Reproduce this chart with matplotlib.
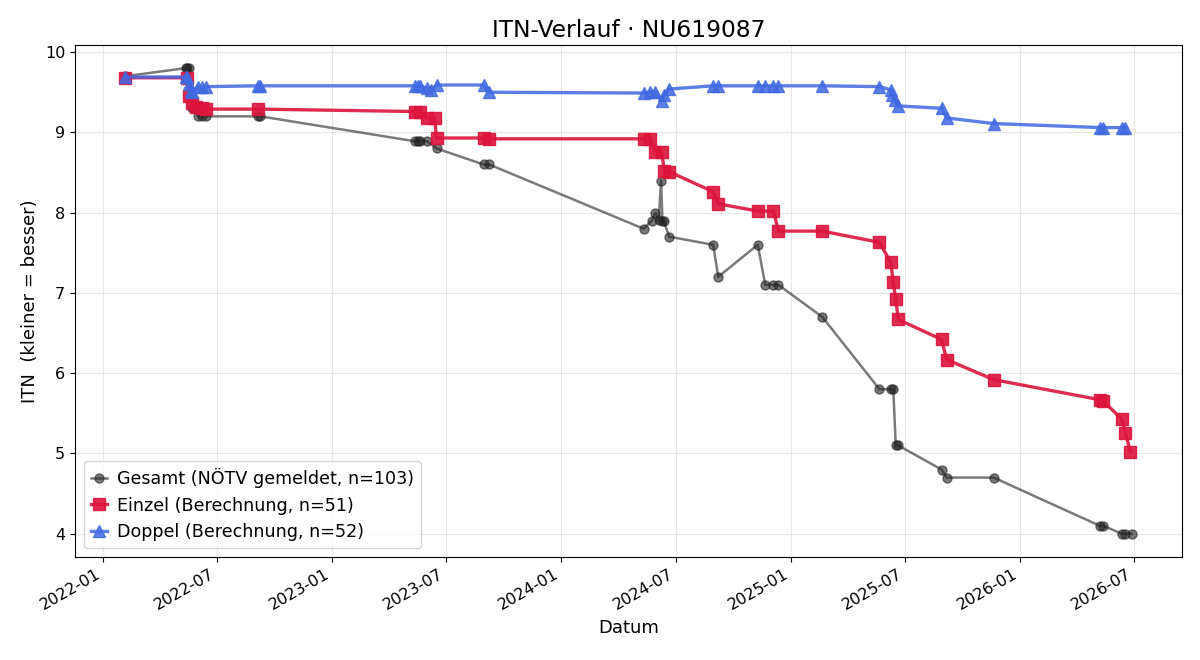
import matplotlib
matplotlib.use("Agg")
import matplotlib.pyplot as plt
import matplotlib.dates as mdates
import pandas as pd

title = "ITN-Verlauf · NU619087"

gesamt_dates = [
    "2022-02-05", "2022-05-12", "2022-05-15", "2022-05-18", "2022-05-23", "2022-05-25",
    "2022-06-01", "2022-06-08", "2022-06-14", "2022-09-05", "2022-09-08",
    "2023-05-12", "2023-05-17", "2023-05-20", "2023-06-01", "2023-06-16",
    "2023-08-30", "2023-09-08",
    "2024-05-11", "2024-05-24", "2024-05-30", "2024-06-04", "2024-06-08", "2024-06-10",
    "2024-06-12", "2024-06-21", "2024-08-30", "2024-09-07", "2024-11-09", "2024-11-21",
    "2024-12-04", "2024-12-12",
    "2025-02-20", "2025-05-22", "2025-06-09", "2025-06-13", "2025-06-17", "2025-06-21",
    "2025-08-29", "2025-09-06", "2025-11-20",
    "2026-05-08", "2026-05-14", "2026-06-12", "2026-06-18", "2026-06-28",
]
gesamt_vals = [
    9.70, 9.80, 9.80, 9.80, 9.30, 9.30,
    9.20, 9.20, 9.20, 9.20, 9.20,
    8.89, 8.89, 8.89, 8.89, 8.80,
    8.60, 8.60,
    7.80, 7.90, 8.00, 7.91, 8.40, 7.90,
    7.90, 7.70, 7.60, 7.20, 7.60, 7.10,
    7.10, 7.10,
    6.70, 5.80, 5.80, 5.80, 5.10, 5.10,
    4.80, 4.70, 4.70,
    4.10, 4.10, 4.00, 4.00, 4.00,
]

einzel_dates = [
    "2022-02-05", "2022-05-15", "2022-05-18", "2022-05-23", "2022-05-28", "2022-06-08",
    "2022-06-14", "2022-09-05",
    "2023-05-12", "2023-05-20", "2023-06-01", "2023-06-13", "2023-06-16", "2023-08-30",
    "2023-09-08",
    "2024-05-11", "2024-05-22", "2024-05-30", "2024-06-09", "2024-06-13", "2024-06-21",
    "2024-08-30", "2024-09-07", "2024-11-09", "2024-12-04", "2024-12-12",
    "2025-02-20", "2025-05-22", "2025-06-09", "2025-06-13", "2025-06-17", "2025-06-21",
    "2025-08-29", "2025-09-06", "2025-11-20",
    "2026-05-08", "2026-05-14", "2026-06-12", "2026-06-18", "2026-06-26",
]
einzel_vals = [
    9.68, 9.68, 9.45, 9.36, 9.32, 9.30,
    9.29, 9.29,
    9.26, 9.26, 9.18, 9.18, 8.93, 8.93,
    8.92,
    8.92, 8.92, 8.76, 8.76, 8.52, 8.51,
    8.26, 8.11, 8.02, 8.02, 7.77,
    7.77, 7.63, 7.38, 7.13, 6.92, 6.67,
    6.42, 6.17, 5.92,
    5.67, 5.65, 5.43, 5.26, 5.02,
]

doppel_dates = [
    "2022-02-05", "2022-05-12", "2022-05-15", "2022-05-18", "2022-05-20", "2022-05-23",
    "2022-06-01", "2022-06-08", "2022-06-14", "2022-09-05", "2022-09-08",
    "2023-05-12", "2023-05-17", "2023-05-20", "2023-06-01", "2023-06-08", "2023-06-16",
    "2023-08-30", "2023-09-08",
    "2024-05-11", "2024-05-22", "2024-05-30", "2024-06-09", "2024-06-13", "2024-06-21",
    "2024-08-30", "2024-09-07", "2024-11-09", "2024-11-21", "2024-12-04", "2024-12-12",
    "2025-02-20", "2025-05-22", "2025-06-09", "2025-06-11", "2025-06-15", "2025-06-21",
    "2025-08-29", "2025-09-06", "2025-11-20",
    "2026-05-08", "2026-05-14", "2026-06-12", "2026-06-18",
]
doppel_vals = [
    9.69, 9.69, 9.69, 9.60, 9.52, 9.50,
    9.57, 9.56, 9.57, 9.58, 9.58,
    9.58, 9.58, 9.58, 9.55, 9.53, 9.59,
    9.59, 9.50,
    9.49, 9.50, 9.50, 9.39, 9.47, 9.54,
    9.58, 9.58, 9.58, 9.58, 9.58, 9.58,
    9.58, 9.57, 9.53, 9.47, 9.40, 9.33,
    9.30, 9.18, 9.11,
    9.06, 9.06, 9.06, 9.06,
]

labels = [
    "Gesamt (NÖTV gemeldet, n=103)",
    "Einzel (Berechnung, n=51)",
    "Doppel (Berechnung, n=52)",
]

fig, ax = plt.subplots(figsize=(12, 6.6), dpi=100)
ax.plot(pd.to_datetime(gesamt_dates), gesamt_vals, marker="o", color="#222222",
        alpha=0.6, linewidth=1.8, markersize=6.5, label=labels[0])
ax.plot(pd.to_datetime(einzel_dates), einzel_vals, marker="s", color="crimson",
        alpha=0.9, linewidth=2.4, markersize=8, label=labels[1])
ax.plot(pd.to_datetime(doppel_dates), doppel_vals, marker="^", color="royalblue",
        alpha=0.85, linewidth=2.4, markersize=8, label=labels[2])

ax.set_title(title, fontsize=16.8)
ax.set_xlabel("Datum", fontsize=13)
ax.set_ylabel("ITN  (kleiner = besser)", fontsize=13)
ax.grid(True, alpha=0.3)
ax.xaxis.set_major_locator(mdates.MonthLocator(bymonth=[1, 7]))
ax.xaxis.set_major_formatter(mdates.DateFormatter("%Y-%m"))
for lbl in ax.get_xticklabels():
    lbl.set_rotation(30)
    lbl.set_ha("right")
ax.tick_params(labelsize=11.5)
ax.legend(loc="lower left", fontsize=12.6, handlelength=0.95, handletextpad=0.55)
fig.subplots_adjust(left=0.0625, right=0.985, top=0.932, bottom=0.156)
fig.savefig("out.png", dpi=100)
